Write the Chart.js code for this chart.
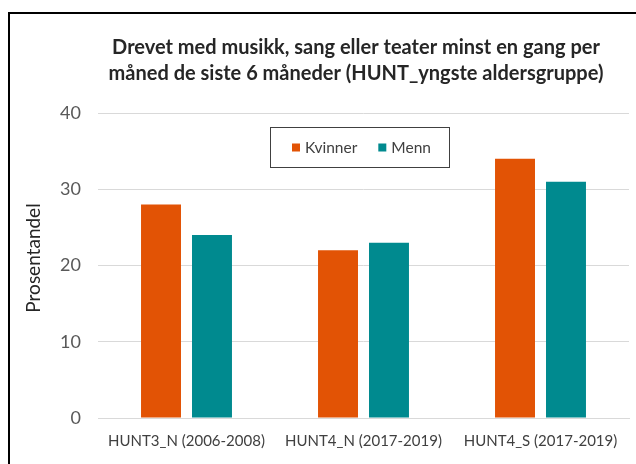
<!DOCTYPE html>
<html>
<head>
<meta charset="utf-8">
<script src="https://cdn.jsdelivr.net/npm/chart.js@4/dist/chart.umd.min.js"></script>
<style>
html,body{margin:0;padding:0;background:#fff;}
#wrap{width:636px;height:464px;position:relative;}
</style>
</head>
<body>
<div id="wrap"><canvas id="c" width="636" height="464"></canvas></div>
<script>
const categories = ["HUNT3_N (2006-2008)", "HUNT4_N (2017-2019)", "HUNT4_S (2017-2019)"];
const kvinner = [28, 22, 34];
const menn = [24, 23, 31];
const seriesNames = ["Kvinner", "Menn"];
const yTicks = [0, 10, 20, 30, 40];
const titleLines = ["Drevet med musikk, sang eller teater minst en gang per", "måned de siste 6 måneder (HUNT_yngste aldersgruppe)"];
const yTitle = "Prosentandel";

const FONT = "Lato, 'Liberation Sans', sans-serif";

const frame = {
  id: 'frame',
  beforeDraw(chart) {
    const ctx = chart.ctx;
    ctx.save();
    ctx.fillStyle = '#fff';
    ctx.fillRect(0, 0, chart.width, chart.height);
    ctx.strokeStyle = '#000';
    ctx.lineWidth = 2;
    ctx.strokeRect(9, 13, chart.width + 20, chart.height + 20);
    ctx.restore();
  }
};

const texts = {
  id: 'texts',
  afterDraw(chart) {
    const ctx = chart.ctx;
    ctx.save();
    // title
    ctx.fillStyle = '#262626';
    ctx.font = "bold 20px " + FONT;
    ctx.textAlign = 'center';
    ctx.textBaseline = 'middle';
    titleLines.forEach((t, i) => ctx.fillText(t, 356, 48 + i * 26));
    // y axis title
    ctx.save();
    ctx.translate(34, 258);
    ctx.rotate(-Math.PI / 2);
    ctx.font = "19px " + FONT;
    ctx.fillStyle = '#262626';
    ctx.fillText(yTitle, 0, 0);
    ctx.restore();
    // legend box
    const x0 = 270, y0 = 127, w = 179, h = 40;
    ctx.strokeStyle = '#404040';
    ctx.lineWidth = 1;
    ctx.fillStyle = '#fff';
    ctx.fillRect(x0, y0, w, h);
    ctx.strokeRect(x0 + 0.5, y0 + 0.5, w, h);
    ctx.font = "15.5px " + FONT;
    ctx.textAlign = 'left';
    ctx.textBaseline = 'middle';
    let x = x0 + 22;
    const cy = y0 + h / 2 + 0.5;
    chart.data.datasets.forEach((ds) => {
      ctx.fillStyle = ds.backgroundColor;
      ctx.fillRect(x, cy - 4, 8, 8);
      ctx.fillStyle = '#404040';
      ctx.fillText(ds.label, x + 13, cy);
      x += 13 + ctx.measureText(ds.label).width + 21;
    });
    ctx.restore();
  }
};

new Chart(document.getElementById('c'), {
  type: 'bar',
  data: {
    labels: categories,
    datasets: [
      { label: seriesNames[0], data: kvinner, backgroundColor: '#E25305', barPercentage: 0.784, categoryPercentage: 0.576 },
      { label: seriesNames[1], data: menn, backgroundColor: '#008A8F', barPercentage: 0.784, categoryPercentage: 0.576 }
    ]
  },
  options: {
    responsive: false,
    animation: false,
    devicePixelRatio: 1,
    layout: { padding: { left: 10, right: 7, top: 113, bottom: 0 } },
    plugins: {
      legend: { display: false },
      tooltip: { enabled: false },
      title: { display: false }
    },
    scales: {
      x: {
        grid: { display: false, drawTicks: false },
        border: { display: true, color: '#d9d9d9', width: 1 },
        ticks: { color: '#404040', font: { family: FONT, size: 15 }, padding: 14, maxRotation: 0, autoSkip: false },
        afterFit(s) { s.height = 46; }
      },
      y: {
        min: 0, max: 40,
        afterBuildTicks(s) { s.ticks = yTicks.map(v => ({ value: v })); },
        grid: { color: '#d9d9d9', lineWidth: 1, drawTicks: false },
        border: { display: false },
        ticks: { color: '#595959', font: { family: FONT, size: 18 }, padding: 17 },
        afterFit(s) { s.width = 88; }
      }
    }
  },
  plugins: [frame, texts]
});
</script>
</body>
</html>
